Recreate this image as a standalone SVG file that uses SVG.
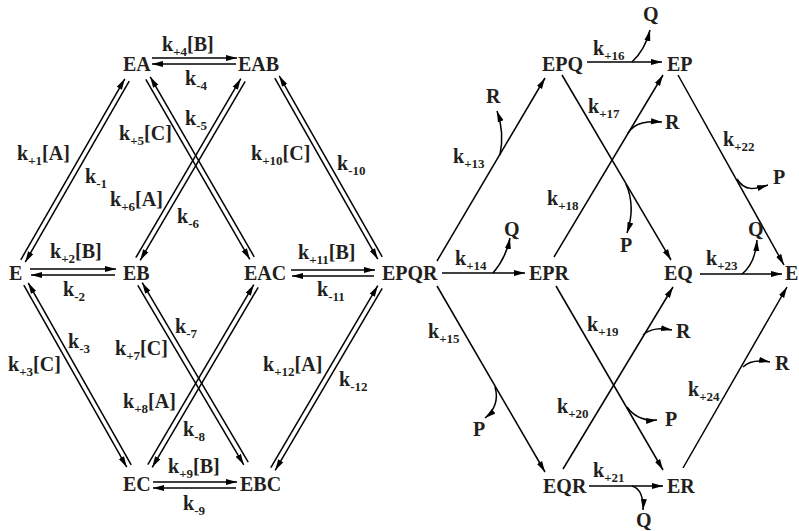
<svg xmlns="http://www.w3.org/2000/svg" width="799" height="531" viewBox="0 0 799 531">
<style>
text{font-family:"Liberation Serif","Times New Roman",serif;font-weight:bold;fill:#231f20}
.n{font-size:20px}
.k{font-size:20px}
.s{font-size:13px}
.sp{font-size:20px}
line,path.c{stroke:#000;stroke-width:1.5;fill:none}
.a{marker-end:url(#ah)}
</style>
<defs>
<marker id="ah" markerUnits="userSpaceOnUse" markerWidth="11" markerHeight="7" viewBox="0 0 11 6" refX="11" refY="3" orient="auto">
<path d="M0,0 L11,3 L0,6 z" fill="#000"/>
</marker>
</defs>
<rect width="799" height="531" fill="#fff"/>

<g id="connectors">
<!-- E <-> EA -->
<line class="a" x1="20.8" y1="259.8" x2="124.8" y2="78.8"/>
<line class="a" x1="129.2" y1="81.2" x2="25.2" y2="262.2"/>
<!-- EA <-> EAB -->
<line class="a" x1="152" y1="58" x2="237" y2="58"/>
<line class="a" x1="236" y1="64" x2="152" y2="64"/>
<!-- EA <-> EAC -->
<line class="a" x1="145.8" y1="79.3" x2="249.8" y2="259.3"/>
<line class="a" x1="254.2" y1="256.8" x2="150.2" y2="76.8"/>
<!-- EB <-> EAB -->
<line class="a" x1="135.8" y1="257.7" x2="240.8" y2="78.7"/>
<line class="a" x1="245.2" y1="81.3" x2="140.2" y2="260.3"/>
<!-- EAB <-> EPQR -->
<line class="a" x1="274.8" y1="78.2" x2="377.8" y2="259.2"/>
<line class="a" x1="382.2" y1="256.8" x2="279.2" y2="75.8"/>
<!-- E <-> EB -->
<line class="a" x1="30" y1="269" x2="116" y2="269"/>
<line class="a" x1="115" y1="275" x2="31" y2="275"/>
<!-- EAC <-> EPQR -->
<line class="a" x1="291" y1="270" x2="375" y2="270"/>
<line class="a" x1="374" y1="276" x2="292" y2="276"/>
<!-- E <-> EC -->
<line class="a" x1="23.8" y1="285.2" x2="126.8" y2="467.2"/>
<line class="a" x1="131.2" y1="464.8" x2="28.2" y2="282.8"/>
<!-- EB <-> EBC -->
<line class="a" x1="137.8" y1="285.3" x2="243.8" y2="464.8"/>
<line class="a" x1="248.2" y1="462.2" x2="142.2" y2="282.7"/>
<!-- EC <-> EAC -->
<line class="a" x1="147.8" y1="464.7" x2="253.8" y2="284.7"/>
<line class="a" x1="258.2" y1="287.3" x2="152.2" y2="467.3"/>
<!-- EBC <-> EPQR -->
<line class="a" x1="270.8" y1="467.7" x2="377.8" y2="285.7"/>
<line class="a" x1="382.2" y1="288.3" x2="275.2" y2="470.3"/>
<!-- EC <-> EBC -->
<line class="a" x1="153" y1="482" x2="237" y2="482"/>
<line class="a" x1="236" y1="488" x2="153" y2="488"/>

<!-- right network -->
<line class="a" x1="437" y1="261" x2="545" y2="78"/>
<line class="a" x1="442" y1="273" x2="525" y2="273"/>
<line class="a" x1="437" y1="286" x2="545" y2="472"/>
<line class="a" x1="587" y1="62" x2="662" y2="62"/>
<line class="a" x1="562" y1="75" x2="671" y2="260"/>
<line class="a" x1="554" y1="257" x2="663" y2="75"/>
<line class="a" x1="556" y1="286" x2="663" y2="470"/>
<line class="a" x1="563" y1="469" x2="673" y2="287"/>
<line class="a" x1="589" y1="486" x2="663" y2="486"/>
<line class="a" x1="678" y1="75" x2="784" y2="265"/>
<line class="a" x1="700" y1="274" x2="782" y2="274"/>
<line class="a" x1="683" y1="468" x2="787" y2="287"/>
<!-- product release branches -->
<path class="c a" d="M500 155 C503 140 502 125 497 111"/>
<path class="c a" d="M493 273 Q506 258 510 238"/>
<path class="c a" d="M495 387 C499 400 494 411 485 418"/>
<path class="c a" d="M632 62 Q645 50 650 30"/>
<path class="c a" d="M626 184 C633 200 632 218 627 233"/>
<path class="c a" d="M628 133 C635 122 648 121 662 122"/>
<path class="c a" d="M632 486 C640 488 644 498 643 510"/>
<path class="c a" d="M737 179 C745 192 755 189 768 185"/>
<path class="c a" d="M742 274 C752 266 756 254 757 240"/>
<path class="c a" d="M643 335 C651 328 660 328 672 330"/>
<path class="c a" d="M627 407 C635 418 645 421 657 420"/>
<path class="c a" d="M743 367 C750 360 760 360 770 362"/>
</g>

<g id="rate-labels">
<text class="k" x="162" y="51">k<tspan class="s" dy="5">+4</tspan><tspan dy="-5">[B]</tspan></text>
<text class="k" x="185" y="85">k<tspan class="s" dy="5">-4</tspan></text>
<text class="k" x="17" y="160">k<tspan class="s" dy="5">+1</tspan><tspan dy="-5">[A]</tspan></text>
<text class="k" x="85" y="183">k<tspan class="s" dy="5">-1</tspan></text>
<text class="k" x="119" y="140">k<tspan class="s" dy="5">+5</tspan><tspan dy="-5">[C]</tspan></text>
<text class="k" x="185" y="125">k<tspan class="s" dy="5">-5</tspan></text>
<text class="k" x="110" y="206">k<tspan class="s" dy="5">+6</tspan><tspan dy="-5">[A]</tspan></text>
<text class="k" x="177" y="223">k<tspan class="s" dy="5">-6</tspan></text>
<text class="k" x="50" y="258">k<tspan class="s" dy="5">+2</tspan><tspan dy="-5">[B]</tspan></text>
<text class="k" x="63" y="296">k<tspan class="s" dy="5">-2</tspan></text>
<text class="k" x="68" y="348">k<tspan class="s" dy="5">-3</tspan></text>
<text class="k" x="8" y="371">k<tspan class="s" dy="5">+3</tspan><tspan dy="-5">[C]</tspan></text>
<text class="k" x="175" y="333">k<tspan class="s" dy="5">-7</tspan></text>
<text class="k" x="115" y="355">k<tspan class="s" dy="5">+7</tspan><tspan dy="-5">[C]</tspan></text>
<text class="k" x="123" y="408">k<tspan class="s" dy="5">+8</tspan><tspan dy="-5">[A]</tspan></text>
<text class="k" x="183" y="436">k<tspan class="s" dy="5">-8</tspan></text>
<text class="k" x="168" y="473">k<tspan class="s" dy="5">+9</tspan><tspan dy="-5">[B]</tspan></text>
<text class="k" x="183" y="510">k<tspan class="s" dy="5">-9</tspan></text>
<text class="k" x="251" y="160">k<tspan class="s" dy="5">+10</tspan><tspan dy="-5">[C]</tspan></text>
<text class="k" x="337" y="170">k<tspan class="s" dy="5">-10</tspan></text>
<text class="k" x="298" y="259">k<tspan class="s" dy="5">+11</tspan><tspan dy="-5">[B]</tspan></text>
<text class="k" x="317" y="296">k<tspan class="s" dy="5">-11</tspan></text>
<text class="k" x="263" y="371">k<tspan class="s" dy="5">+12</tspan><tspan dy="-5">[A]</tspan></text>
<text class="k" x="339" y="386">k<tspan class="s" dy="5">-12</tspan></text>
<text class="k" x="453" y="163">k<tspan class="s" dy="5">+13</tspan></text>
<text class="k" x="455" y="265">k<tspan class="s" dy="5">+14</tspan></text>
<text class="k" x="428" y="338">k<tspan class="s" dy="5">+15</tspan></text>
<text class="k" x="593" y="55">k<tspan class="s" dy="5">+16</tspan></text>
<text class="k" x="588" y="113">k<tspan class="s" dy="5">+17</tspan></text>
<text class="k" x="547" y="205">k<tspan class="s" dy="5">+18</tspan></text>
<text class="k" x="587" y="331">k<tspan class="s" dy="5">+19</tspan></text>
<text class="k" x="557" y="413">k<tspan class="s" dy="5">+20</tspan></text>
<text class="k" x="593" y="477">k<tspan class="s" dy="5">+21</tspan></text>
<text class="k" x="723" y="146">k<tspan class="s" dy="5">+22</tspan></text>
<text class="k" x="706" y="265">k<tspan class="s" dy="5">+23</tspan></text>
<text class="k" x="688" y="396">k<tspan class="s" dy="5">+24</tspan></text>
</g>

<g id="products">
<text class="sp" x="486" y="103">R</text>
<text class="sp" x="643" y="21">Q</text>
<text class="sp" x="665" y="129">R</text>
<text class="sp" x="773" y="184">P</text>
<text class="sp" x="504" y="236">Q</text>
<text class="sp" x="620" y="252">P</text>
<text class="sp" x="748" y="236">Q</text>
<text class="sp" x="676" y="338">R</text>
<text class="sp" x="473" y="436">P</text>
<text class="sp" x="665" y="426">P</text>
<text class="sp" x="775" y="370">R</text>
<text class="sp" x="636" y="527">Q</text>
</g>

<g id="node-EA"><text class="n" x="123" y="71">EA</text></g>
<g id="node-EAB"><text class="n" x="238" y="71">EAB</text></g>
<g id="node-E"><text class="n" x="9" y="280">E</text></g>
<g id="node-EB"><text class="n" x="123" y="280">EB</text></g>
<g id="node-EAC"><text class="n" x="244" y="280">EAC</text></g>
<g id="node-EPQR"><text class="n" x="382" y="280">EPQR</text></g>
<g id="node-EC"><text class="n" x="123" y="491">EC</text></g>
<g id="node-EBC"><text class="n" x="240" y="491">EBC</text></g>
<g id="node-EPQ"><text class="n" x="542" y="71">EPQ</text></g>
<g id="node-EP"><text class="n" x="667" y="71">EP</text></g>
<g id="node-EPR"><text class="n" x="529" y="280">EPR</text></g>
<g id="node-EQ"><text class="n" x="664" y="280">EQ</text></g>
<g id="node-E2"><text class="n" x="785" y="280">E</text></g>
<g id="node-EQR"><text class="n" x="543" y="493">EQR</text></g>
<g id="node-ER"><text class="n" x="667" y="493">ER</text></g>
</svg>
